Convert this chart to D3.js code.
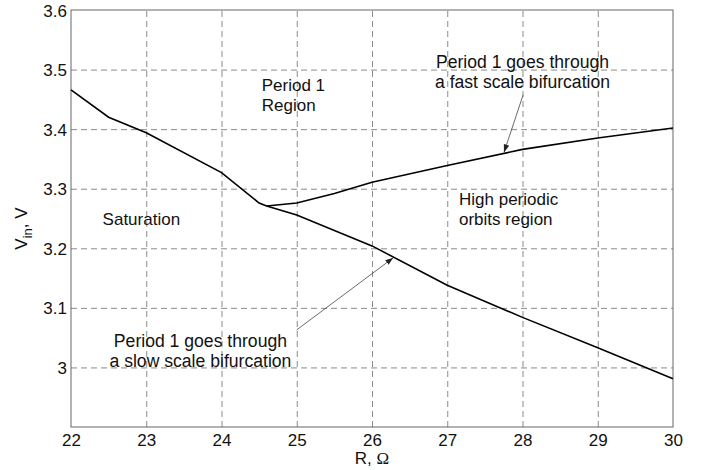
<!DOCTYPE html>
<html>
<head>
<meta charset="utf-8">
<script src="https://cdn.jsdelivr.net/npm/d3@7"></script>
<style>
  body { margin: 0; background: #fff; }
  text { font-family: "Liberation Sans", Arial, sans-serif; fill: #111; }
  .grid line { stroke: #8a8a8a; stroke-dasharray: 6,4; }
  .grid .domain { display: none; }
  .ticks .domain { display: none; }
  .ticks line { display: none; }
</style>
</head>
<body>
<div id="chart"></div>
<script>
// boundary of the saturation region + slow scale bifurcation curve
let rLower = [22, 22.5, 23, 24, 24.5, 24.6, 25, 26, 27, 28, 29, 30];
let vLower = [3.466, 3.420, 3.394, 3.327, 3.276, 3.271, 3.256, 3.204, 3.138, 3.084, 3.033, 2.981];

// fast scale bifurcation curve
let rUpper = [24.6, 25, 25.5, 26, 27, 28, 29, 30];
let vUpper = [3.271, 3.276, 3.292, 3.311, 3.339, 3.366, 3.385, 3.402];

let xTicks = [22, 23, 24, 25, 26, 27, 28, 29, 30];
let yTicks = [3, 3.1, 3.2, 3.3, 3.4, 3.5, 3.6];

let labels = [
  {lines: ["Period 1", "Region"], r: 24.535, v: 3.464, anchor: "start", size: 17},
  {lines: ["Saturation"], r: 22.42, v: 3.239, anchor: "start", size: 17},
  {lines: ["High periodic", "orbits region"], r: 27.156, v: 3.272, anchor: "start", size: 17},
  {lines: ["Period 1 goes through", "a fast scale bifurcation"], r: 28.0, v: 3.5025, anchor: "middle", size: 17.6},
  {lines: ["Period 1 goes through", "a slow scale bifurcation"], r: 23.72, v: 3.034, anchor: "middle", size: 17.6}
];

let arrows = [
  {from: [28.007, 3.457], to: [27.754, 3.361]},
  {from: [24.999, 3.063], to: [26.283, 3.184]}
];

let margin = {top: 10, right: 35, bottom: 43, left: 71},
    width = 708 - margin.left - margin.right,
    height = 470 - margin.top - margin.bottom;

let svg = d3.select("#chart")
    .append("svg")
    .attr("width", 708)
    .attr("height", 470);

let canvas = svg.append("g")
    .attr("transform", "translate(" + margin.left + "," + margin.top + ")");

let x = d3.scaleLinear().domain([22, 30]).range([0, width]);
let y = d3.scaleLinear().domain([2.9, 3.6]).range([height, 0]);

// grid
canvas.append("g")
    .attr("class", "grid")
    .attr("transform", "translate(0," + height + ")")
    .call(d3.axisBottom(x).tickValues(xTicks.slice(1, -1)).tickSize(-height).tickFormat(""));

canvas.append("g")
    .attr("class", "grid")
    .call(d3.axisLeft(y).tickValues(yTicks.slice(0, -1)).tickSize(-width).tickFormat(""));

// tick labels
canvas.append("g")
    .attr("class", "ticks")
    .attr("transform", "translate(0," + height + ")")
    .call(d3.axisBottom(x).tickValues(xTicks).tickSize(0).tickFormat(d3.format("d")))
    .call(function(g) {
        g.selectAll("text")
            .attr("dy", 0)
            .attr("y", 19)
            .style("font-size", "17px")
            .style("font-family", "'Liberation Sans', Arial, sans-serif")
            .style("fill", "#111");
    });

canvas.append("g")
    .attr("class", "ticks")
    .call(d3.axisLeft(y).tickValues(yTicks).tickSize(0).tickFormat(function(d) { return d === 3 ? "3" : d3.format(".1f")(d); }))
    .call(function(g) {
        g.selectAll("text")
            .attr("x", -4)
            .attr("dy", "0.36em")
            .style("font-size", "17px")
            .style("font-family", "'Liberation Sans', Arial, sans-serif")
            .style("fill", "#111");
    });

// frame
canvas.append("rect")
    .attr("width", width)
    .attr("height", height)
    .attr("fill", "none")
    .attr("stroke", "#666")
    .attr("stroke-width", 1);

// curves
let line = d3.line()
    .x(function(d) { return x(d[0]); })
    .y(function(d) { return y(d[1]); });

canvas.append("path")
    .datum(d3.zip(rLower, vLower))
    .attr("d", line)
    .attr("fill", "none")
    .attr("stroke", "#000")
    .attr("stroke-width", 1.6);

canvas.append("path")
    .datum(d3.zip(rUpper, vUpper))
    .attr("d", line)
    .attr("fill", "none")
    .attr("stroke", "#000")
    .attr("stroke-width", 1.6);

// arrows
svg.append("defs").append("marker")
    .attr("id", "head")
    .attr("viewBox", "0 0 10 10")
    .attr("refX", 10)
    .attr("refY", 5)
    .attr("markerWidth", 8)
    .attr("markerHeight", 8)
    .attr("markerUnits", "userSpaceOnUse")
    .attr("orient", "auto")
    .append("path")
    .attr("d", "M0,1.5L10,5L0,8.5Z")
    .attr("fill", "#222");

canvas.selectAll(".arrow")
    .data(arrows)
    .enter().append("line")
    .attr("class", "arrow")
    .attr("x1", function(d) { return x(d.from[0]); })
    .attr("y1", function(d) { return y(d.from[1]); })
    .attr("x2", function(d) { return x(d.to[0]); })
    .attr("y2", function(d) { return y(d.to[1]); })
    .attr("stroke", "#444")
    .attr("stroke-width", 0.8)
    .attr("marker-end", "url(#head)");

// annotations
let notes = canvas.selectAll(".note")
    .data(labels)
    .enter().append("text")
    .attr("class", "note")
    .attr("x", function(d) { return x(d.r); })
    .attr("y", function(d) { return y(d.v); })
    .attr("text-anchor", function(d) { return d.anchor; })
    .style("font-size", function(d) { return d.size + "px"; });

notes.selectAll("tspan")
    .data(function(d) { return d.lines.map(function(t, i) { return {t: t, i: i, r: d.r}; }); })
    .enter().append("tspan")
    .attr("x", function(d) { return x(d.r); })
    .attr("dy", function(d) { return d.i === 0 ? 0 : 19.5; })
    .text(function(d) { return d.t; });

// axis labels
let xl = svg.append("text")
    .attr("x", margin.left + width / 2)
    .attr("y", 464)
    .attr("text-anchor", "middle")
    .style("font-size", "17px");
xl.append("tspan").text("R, ");
xl.append("tspan").style("font-family", "'Liberation Serif', 'Times New Roman', serif").text("Ω");

let yl = svg.append("text")
    .attr("transform", "translate(27," + (margin.top + height / 2 + 10) + ") rotate(-90)")
    .attr("text-anchor", "middle")
    .style("font-size", "17px");
yl.append("tspan").text("V");
yl.append("tspan").attr("dy", 5).style("font-size", "13px").text("in");
yl.append("tspan").attr("dy", -5).text(", V");
</script>
</body>
</html>
